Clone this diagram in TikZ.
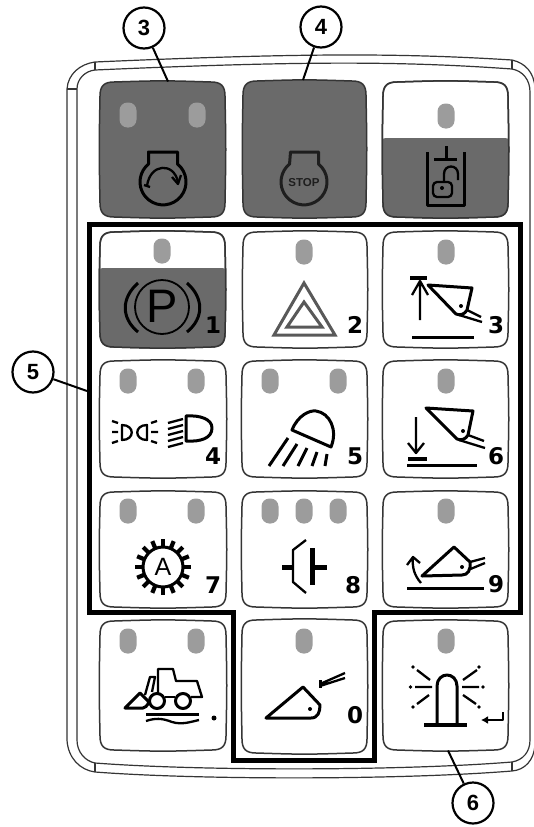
\documentclass[tikz,border=0pt]{standalone}
\usepackage{fontspec}
\setmainfont{Liberation Sans}
\newfontfamily\numfont{DejaVu Sans}
\usetikzlibrary{arrows.meta}
\definecolor{keydark}{HTML}{6A6A6A}
\definecolor{ledgray}{HTML}{9C9C9C}
\definecolor{edgegray}{HTML}{353535}
\definecolor{stopgray}{HTML}{1E1E1E}
\newcommand{\keypath}[4]{({#1+14},{#2}) .. controls ({(#1+#3)/2},{#2-1.5}) .. ({#3-14},{#2}) .. controls ({#3-4},{#2}) and ({#3},{#2+4}) .. ({#3},{#2+14}) .. controls ({#3+1},{(#2+#4)/2}) .. ({#3},{#4-14}) .. controls ({#3},{#4-4}) and ({#3-4},{#4}) .. ({#3-14},{#4}) .. controls ({(#1+#3)/2},{#4+1.5}) .. ({#1+14},{#4}) .. controls ({#1+4},{#4}) and ({#1},{#4-4}) .. ({#1},{#4-14}) .. controls ({#1-1},{(#2+#4)/2}) .. ({#1},{#2+14}) .. controls ({#1},{#2+4}) and ({#1+4},{#2}) .. cycle}
\newcommand{\led}[2]{\fill[ledgray,rounded corners=8pt] ({#1-8.5},{#2-12.5}) rectangle ({#1+8.5},{#2+12.5});}
\newcommand{\halfdark}[5]{\begin{scope}\clip \keypath{#1}{#2}{#3}{#4};\fill[keydark,rounded corners=6pt] ({#1-3},#5) rectangle ({#3+3},{#4+30});\end{scope}\draw[keyedge] \keypath{#1}{#2}{#3}{#4};}
\tikzset{
 keyedge/.style={draw=edgegray,line width=1.5pt},
 rim/.style={draw=edgegray,line width=1.2pt},
 sym/.style={draw=black,line width=3pt,line join=round},
 symthin/.style={draw=black,line width=2.3pt,line join=round},
 callout/.style={circle,draw=black,line width=2.2pt,fill=white,minimum size=41pt,inner sep=0pt,font=\fontsize{22}{22}\selectfont\bfseries},
 leader/.style={draw=black,line width=2pt},
 keynum/.style={font=\numfont\fontsize{23}{23}\selectfont\bfseries,inner sep=0pt,text=black},
}
\begin{document}
\begin{tikzpicture}[x=1pt,y=-1pt]
\useasboundingbox[fill=white] (0,0) rectangle (533,827);
% panel rim
\draw[rim] (95,62) .. controls (300,53) and (400,53) .. (512,60) .. controls (525,63) and (534,72) .. (535,88) -- (535,745) .. controls (534,760) and (525,770) .. (512,771) .. controls (400,780) and (200,780) .. (95,772) .. controls (80,770) and (68,758) .. (67,740) -- (67,89) .. controls (68,74) and (80,64) .. (95,62) -- cycle;
\draw[rim] (95,70) .. controls (300,61) and (400,61) .. (512,69) .. controls (523,71) and (530,80) .. (530,92) -- (530,740) .. controls (530,752) and (523,760) .. (512,762) .. controls (400,771) and (200,771) .. (95,763) .. controls (85,761) and (77,752) .. (77,740) -- (77,89) .. controls (77,79) and (85,71) .. (95,70) -- cycle;
\draw[rim] (95,62) -- (95,70) (67,89) -- (77,89) (95,763) -- (95,772) (512,762) -- (512,771) (512,60) -- (512,69);
% thick frame
\draw[draw=black,line width=5pt,miter limit=5] (89,224.5) -- (520,224.5) -- (520,612.5) -- (374,612.5) -- (374,760) -- (233,760) -- (233,612.5) -- (89,612.5) -- cycle;
% keys
\draw[keyedge,fill=keydark] \keypath{100}{82}{225}{217};
\draw[keyedge,fill=keydark] \keypath{243}{81}{366}{217};
\draw[keyedge,fill=white] \keypath{383}{82}{508}{217};
\halfdark{383}{82}{508}{217}{138}
\draw[keyedge,fill=white] \keypath{100}{232}{225}{347};
\halfdark{100}{232}{225}{347}{268}
\draw[keyedge,fill=white] \keypath{243}{232}{367}{347};
\draw[keyedge,fill=white] \keypath{383}{232}{508}{347};
\draw[keyedge,fill=white] \keypath{100}{361}{226}{477};
\draw[keyedge,fill=white] \keypath{242}{361}{367}{477};
\draw[keyedge,fill=white] \keypath{383}{361}{508}{477};
\draw[keyedge,fill=white] \keypath{100}{492}{226}{607};
\draw[keyedge,fill=white] \keypath{242}{492}{367}{607};
\draw[keyedge,fill=white] \keypath{383}{492}{508}{607};
\draw[keyedge,fill=white] \keypath{100}{621}{226}{750};
\draw[keyedge,fill=white] \keypath{242}{620}{367}{753};
\draw[keyedge,fill=white] \keypath{383}{621}{508}{750};
% LEDs
\led{128}{115}\led{197}{115}\led{446}{116}
\led{162}{251}\led{304}{252}\led{446}{252}
\led{128}{381}\led{196}{381}\led{270}{381}\led{338}{381}\led{446}{381}
\led{128}{511}\led{196}{511}\led{270}{511}\led{304}{511}\led{338}{511}\led{446}{511}
\led{128}{641}\led{196}{641}\led{304}{641}\led{446}{641}
% start engine
\draw[sym] (148.5,152) -- (177.5,152) -- (177.5,164) arc[start angle=-51,end angle=231,radius=23] -- cycle;
\draw[symthin] (147,186) .. controls (150,163) and (174,162) .. (178,182);
\draw[symthin] (172,177) -- (178,184) -- (181,175);
\draw[symthin] (144,185) -- (150,187);
% stop
\draw[sym,draw=stopgray] (290.5,152) -- (318.5,152) -- (318.5,164) arc[start angle=-51,end angle=231,radius=23] -- cycle;
\node[font=\fontsize{11.5}{11.5}\selectfont\bfseries,text=stopgray,inner sep=0pt] (stoptxt) at (304,182.5) {STOP};
% lock
\draw[sym,line width=3pt] (427,152) -- (427,205) -- (464,205) -- (464,152);
\draw[sym] (434,159) -- (457,159) (446,146) -- (446,159);
\draw[symthin,rounded corners=4pt] (433,182) rectangle (452,197);
\draw[symthin] (444,182) -- (444,174) .. controls (444,164) and (458,164) .. (458,174) -- (458,180);
\fill[black] (442,188) circle[radius=2];
% parking
\draw[line width=1.8pt,draw=black] (162,307) circle[radius=27];
\node[font=\fontsize{47}{47}\selectfont,inner sep=0pt,text=black] (ptxt) at (162,306) {P};
\draw[sym] (138,283) .. controls (121,298) and (121,318) .. (138,332);
\draw[sym] (187,283) .. controls (204,298) and (204,318) .. (187,332);
\node[keynum] (n1) at (213,325) {1};
% hazard
\draw[draw=black!65,line width=3pt,line join=miter] (304,283) -- (335,335) -- (274,335) -- cycle;
\draw[draw=black!65,line width=3pt,line join=miter] (304,302) -- (322,327) -- (287,327) -- cycle;
\node[keynum] (n2) at (355,325) {2};
% bucket up
\draw[sym,line width=3.5pt] (410,278) -- (427,278);
\draw[symthin] (420,320) -- (420,281) (412,295) -- (420,281) -- (428,295);
\draw[sym] (412,337) -- (474,337);
\draw[sym] (428,285) -- (472,288) -- (467,310) .. controls (465,314) and (460,316) .. (456,314) -- cycle;
\fill (461,306) circle[radius=2];
\draw[symthin] (467,310) -- (481,317) (459,315) -- (482,322);
\node[keynum] (n3) at (496,325) {3};
% headlamps
\draw[symthin] (122,425) -- (122,440) .. controls (135,440) and (135,425) .. (122,425) -- cycle;
\draw[symthin] (147,425) -- (147,440) .. controls (134,440) and (134,425) .. (147,425) -- cycle;
\draw[symthin] (112,421) -- (118,423) (112,432) -- (118,432) (112,443) -- (118,441);
\draw[symthin] (151,423) -- (157,421) (151,432) -- (158,432) (151,441) -- (157,443);
\draw[sym] (186,416) -- (186,441) .. controls (201,442) and (212,438) .. (212,428) .. controls (212,419) and (200,415) .. (186,416) -- cycle;
\draw[symthin] (168,423) -- (183,419) (168,429) -- (183,425) (168,435) -- (183,431) (168,441) -- (183,437) (168,447) -- (183,443);
\node[keynum] (n4) at (213,456) {4};
% work lamp
\draw[sym] (292,430) .. controls (298,415) and (310,410) .. (316,411) .. controls (330,413) and (338,430) .. (331,447) -- cycle;
\draw[sym] (288,438) -- (269,466) (297,444) -- (283,466) (307,448) -- (298,466) (317,452) -- (312,466) (327,454) -- (325,466);
\node[keynum] (n5) at (355,456) {5};
% bucket down
\draw[sym] (426,408) -- (473,411) -- (468,435) .. controls (466,439) and (461,441) .. (457,439) -- cycle;
\fill (463,431) circle[radius=2];
\draw[symthin] (468,435) -- (484,441) (459,440) -- (485,448);
\draw[symthin] (416,417) -- (416,453) (408,443) -- (416,453) -- (424,443);
\draw[sym,line width=3.5pt] (408,459) -- (427,459);
\draw[sym] (407,465) -- (477,465);
\node[keynum] (n6) at (496,456) {6};
% gear A
\draw[sym] (163,567) circle[radius=20];
\foreach \a in {0,22.5,...,359} {\draw[draw=black,line width=4.2pt] (163,567) ++(\a:20) -- ++(\a:8);}
\node[font=\fontsize{25}{25}\selectfont,inner sep=0pt] (atxt) at (163,567) {A};
\node[keynum] (n7) at (213,585) {7};
% clutch
\draw[draw=black,line width=5pt] (282,567) -- (294,567) (310,567) -- (327,567);
\draw[symthin] (306,540) -- (293,550) -- (293,582) -- (306,593);
\draw[draw=black,line width=5pt] (312,548) -- (312,585);
\node[keynum] (n8) at (353,585) {8};
% bucket tilt
\draw[sym] (422,576) -- (454,547) -- (470,562) .. controls (471,570) and (468,575) .. (462,575) -- cycle;
\fill (462,567) circle[radius=2];
\draw[symthin] (470,562) -- (485,558) (468,570) -- (485,563);
\draw[symthin] (421,583) .. controls (414,575) and (412,567) .. (413,557) (407,565) -- (413,557) -- (420,563);
\draw[sym] (407,588) -- (484,588);
\node[keynum] (n9) at (496,584) {9};
% loader
\draw[sym] (157,701) circle[radius=7.5];
\draw[sym] (183,701) circle[radius=7.5];
\draw[symthin] (158,693) -- (158,669) -- (173,669) -- (176,681) -- (197,681) -- (202,697) -- (191,697);
\draw[symthin] (165,697) -- (175,697);
\draw[symthin] (152,692) -- (155,677) -- (150,677) -- (145,695);
\draw[sym] (125,708) -- (140,693) -- (149,702) .. controls (147,706) and (145,708) .. (143,708) -- cycle;
\draw[sym] (146,714) -- (199,714);
\draw[symthin] (146,721) .. controls (155,718) and (162,718) .. (172,722) .. controls (182,725) and (190,722) .. (199,720);
\fill (214,718) circle[radius=2.5];
% bucket level
\draw[sym] (266,718) -- (303,687) -- (320,705) .. controls (320,712) and (318,718) .. (311,718) -- cycle;
\fill (310,709) circle[radius=2];
\draw[symthin] (320,684) -- (345,673) (320,686) -- (345,678);
\draw[sym] (320,680) -- (320,688);
\node[keynum] (n0) at (355,715) {0};
% beacon
\draw[sym] (437,725) -- (437,686) .. controls (437,679) and (442,675) .. (447,675) .. controls (452,675) and (457,679) .. (457,686) -- (457,725);
\draw[sym,line width=3.5pt] (424,725) -- (467,725);
\draw[symthin] (415,687) -- (432,687) (462,687) -- (479,687) (417,670) -- (430,680) (477,670) -- (463,680) (417,704) -- (429,695) (476,704) -- (463,695);
\fill (410.5,687) circle[radius=1.8] (483,687) circle[radius=1.8] (413,667) circle[radius=1.8] (479,667) circle[radius=1.8] (413,707) circle[radius=1.8] (479,707) circle[radius=1.8];
\draw[symthin,-{Latex[length=7pt,width=8pt]}] (503,712) -- (503,720) -- (481,720);
% callouts
\node[callout] (c3) at (144,28) {3};
\node[callout] (c4) at (321,27) {4};
\node[callout] (c5) at (33,372) {5};
\node[callout] (c6) at (473,803) {6};
\coordinate (k3) at (168,81.5);
\coordinate (k4) at (303,80);
\coordinate (frame5) at (87,391);
\coordinate (k6) at (448,750.5);
\draw[leader] (c3) -- (k3);
\draw[leader] (c4) -- (k4);
\draw[leader] (c5) -- (frame5);
\draw[leader] (c6) -- (k6);
\end{tikzpicture}
\end{document}
